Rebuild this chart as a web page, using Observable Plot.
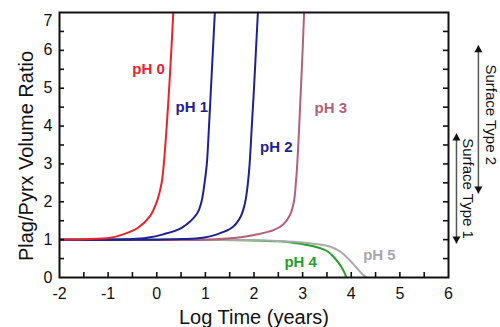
<!DOCTYPE html>
<html>
<head>
<meta charset="utf-8">
<script src="https://cdn.jsdelivr.net/npm/d3@7"></script>
<script src="https://cdn.jsdelivr.net/npm/@observablehq/plot@0.6"></script>
<style>
  html, body { margin: 0; padding: 0; background: #ffffff; }
  #chart { width: 500px; height: 327px; }
</style>
</head>
<body>
<div id="chart"></div>
<script>
// ---- data ----
const xTicks = [-2, -1, 0, 1, 2, 3, 4, 5, 6];
const yTicks = [0, 1, 2, 3, 4, 5, 6];
const yTopTick = [7];
const xMinor = [-1.5, -1, -0.5, 0, 0.5, 1, 1.5, 2, 2.5, 3, 3.5, 4, 4.5, 5, 5.5];
const yMinor = [0.5, 1, 1.5, 2, 2.5, 3, 3.5, 4, 4.5, 5, 5.5, 6, 6.5];

const ph0 = [[-2,1],[-1.5,1.01],[-0.95,1.05],[-0.69,1.14],[-0.4,1.3],[-0.15,1.6],[0.0,2.0],[0.1,2.5],[0.145,3],[0.205,4],[0.255,5],[0.30,6],[0.34,7]];
const ph1 = [[-2,1],[-1,1.0],[-0.5,1.015],[-0.2,1.05],[0.13,1.14],[0.52,1.32],[0.83,1.69],[0.92,2.0],[0.99,2.56],[1.03,3],[1.075,4],[1.115,5],[1.155,6],[1.195,7]];
const ph2 = [[-2,1],[0,1.0],[0.5,1.015],[0.95,1.05],[1.24,1.14],[1.55,1.32],[1.73,1.62],[1.82,2.0],[1.875,2.5],[1.91,3],[1.955,4],[2.0,5],[2.04,6],[2.08,7]];
const ph3 = [[-2,1],[1,1.0],[1.65,1.05],[2.08,1.14],[2.4,1.25],[2.6,1.4],[2.74,1.65],[2.82,2.0],[2.865,2.56],[2.89,3],[2.93,4],[2.965,5],[3.0,6],[3.03,7]];
const ph4 = [[-2,1],[1,1.0],[2,0.98],[2.5,0.955],[2.8,0.92],[3.1,0.86],[3.35,0.78],[3.5,0.7],[3.62,0.57],[3.72,0.42],[3.8,0.27],[3.86,0.13],[3.9,0]];
const ph5 = [[-2,1],[1,1.0],[2,0.985],[2.5,0.965],[2.8,0.945],[3.1,0.91],[3.35,0.87],[3.6,0.8],[3.78,0.68],[3.95,0.48],[4.1,0.27],[4.22,0.1],[4.32,0]];

const seriesNames  = ["pH 4", "pH 5", "pH 3", "pH 2", "pH 1", "pH 0"];
const seriesData   = [ph4, ph5, ph3, ph2, ph1, ph0];
const seriesColors = ["#23a02a", "#aaaaaa", "#b3607a", "#1d2290", "#1d2290", "#e8232c"];

const labelNames  = ["pH 0", "pH 1", "pH 2", "pH 3", "pH 4", "pH 5"];
const labelX      = [-0.17, 0.72, 2.46, 3.58, 2.96, 4.58];
const labelY      = [5.49, 4.49, 3.45, 4.48, 0.41, 0.58];
const labelColors = ["#e8232c", "#1d2290", "#1d2290", "#b3607a", "#23a02a", "#a8a8a8"];

const surfNames = ["Surface Type 2", "Surface Type 1"];
const surfArrowX = [6.615, 6.164];
const surfArrowTop = [6.13, 3.80];
const surfArrowBottom = [2.22, 0.90];
const surfTextX = [6.86, 6.39];
const surfTextY = [4.30, 2.35];

const xTitle = "Log Time (years)";
const yTitle = "Plag/Pyrx Volume Ratio";

// ---- layout ----
const W = 500, H = 327;
const mL = 59, mR = 52, mT = 12, mB = 50;
const plotW = W - mL - mR, plotH = H - mT - mB;
const tickLen = 5;

const lines = seriesData.map((pts, i) =>
  Plot.line(pts, {x: d => d[0], y: d => d[1], stroke: seriesColors[i], strokeWidth: 2, curve: "catmull-rom", clip: "frame"})
);

const labels = labelNames.map((t, i) => ({t, x: labelX[i], y: labelY[i], c: labelColors[i]}));
const arrows = surfNames.map((n, i) => ({x: surfArrowX[i], y1: surfArrowTop[i], y2: surfArrowBottom[i]}));
const surfText = surfNames.map((n, i) => ({t: n, x: surfTextX[i], y: surfTextY[i]}));

const chart = Plot.plot({
  width: W, height: H,
  marginLeft: mL, marginRight: mR, marginTop: mT, marginBottom: mB,
  style: {fontFamily: "'Liberation Sans', Arial, Helvetica, sans-serif", color: "#111", background: "#ffffff", overflow: "visible"},
  x: {domain: [-2, 6], label: null},
  y: {domain: [0, 7], label: null},
  marks: [
    ...lines,
    // ticks (inward)
    Plot.tickX(xMinor, {x: d => d, insetTop: plotH - tickLen, stroke: "#111", strokeWidth: 1.6}),
    Plot.tickY(yMinor, {y: d => d, insetRight: plotW - tickLen, stroke: "#111", strokeWidth: 1.6}),
    Plot.tickY(yMinor, {y: d => d, insetLeft: plotW - tickLen, stroke: "#111", strokeWidth: 1.6}),
    Plot.frame({stroke: "#111", strokeWidth: 2}),
    Plot.axisX({ticks: xTicks, tickSize: 0, tickPadding: 10, fontSize: 16, tickFormat: d => String(d), label: null}),
    Plot.axisY({ticks: yTicks, tickSize: 0, tickPadding: 7, fontSize: 16, tickFormat: d => String(d), label: null}),
    Plot.axisY({ticks: yTopTick, tickSize: 0, tickPadding: 7, fontSize: 16, tickFormat: d => String(d), label: null, dy: 8}),
    // axis titles
    Plot.text([xTitle], {frameAnchor: "bottom", textAnchor: "middle", lineAnchor: "middle", dy: 40, fontSize: 20, fill: "#111"}),
    Plot.text([yTitle], {frameAnchor: "left", textAnchor: "middle", lineAnchor: "middle", dx: -33, dy: 11, rotate: -90, fontSize: 20, fill: "#111"}),
    // series labels
    Plot.text(labels, {x: "x", y: "y", text: "t", fill: "c", fontWeight: "bold", fontSize: 15}),
    // surface type annotations
    Plot.link(arrows, {x1: "x", x2: "x", y1: "y1", y2: "y2", stroke: "#555", strokeWidth: 1.5}),
    Plot.dot(arrows, {x: "x", y: "y1", symbol: "triangle", r: 3, fill: "#111", stroke: null, dy: 4.6}),
    Plot.dot(arrows, {x: "x", y: "y2", symbol: "triangle", r: 3, fill: "#111", stroke: null, rotate: 180, dy: -4.6}),
    Plot.text(surfText, {x: "x", y: "y", text: "t", rotate: 90, fontSize: 15, fill: "#111"})
  ]
});
document.getElementById("chart").appendChild(chart);
</script>
</body>
</html>
